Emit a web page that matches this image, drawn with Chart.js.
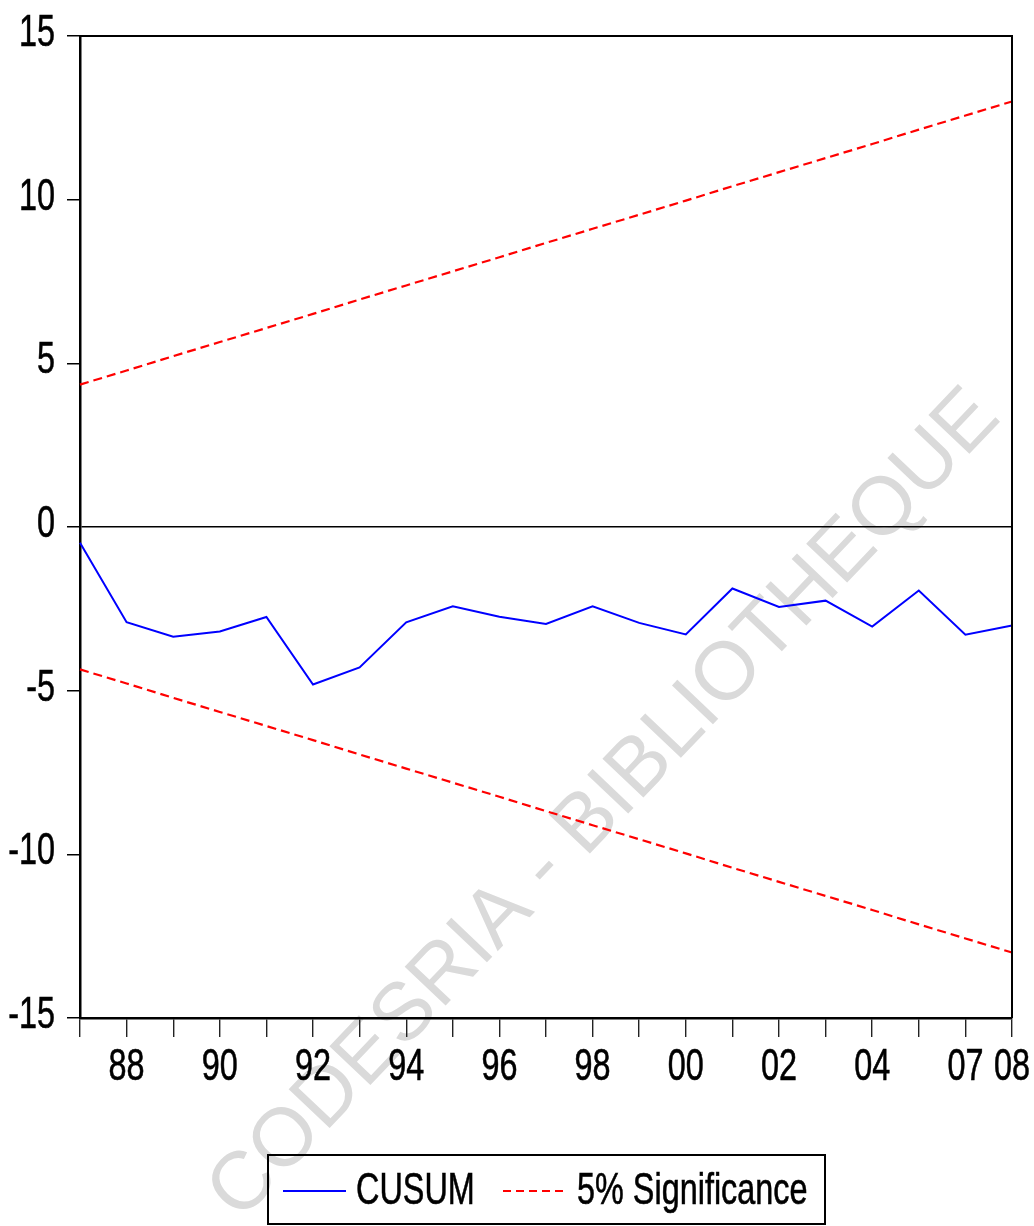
<!DOCTYPE html>
<html lang="en">
<head>
    <meta charset="UTF-8">
    <title>CUSUM</title>
    <script src="https://cdn.jsdelivr.net/npm/chart.js"></script>
    <style>
        body {
            margin: 0;
            background: #ffffff;
        }
        .wrap {
            position: relative;
            width: 1034px;
            height: 1226px;
        }
    </style>
</head>
<body>
    <div class="wrap">
        <canvas id="cusumChart"></canvas>
    </div>
    <script>
        // data
        const years = ['87', '88', '89', '90', '91', '92', '93', '94', '95', '96', '97',
                       '98', '99', '00', '01', '02', '03', '04', '05', '07', '08'];
        const shownYears = ['88', '90', '92', '94', '96', '98', '00', '02', '04', '07', '08'];
        const cusum = [-0.48, -2.91, -3.35, -3.19, -2.75, -4.81, -4.29, -2.91, -2.42, -2.74, -2.96,
                       -2.42, -2.93, -3.28, -1.88, -2.44, -2.25, -3.04, -1.94, -3.29, -3.01];
        const upper5 = [4.35, 4.78, 5.22, 5.65, 6.08, 6.51, 6.95, 7.38, 7.81, 8.24, 8.68,
                        9.11, 9.54, 9.97, 10.41, 10.84, 11.27, 11.70, 12.14, 12.57, 13.00];
        const lower5 = [-4.35, -4.78, -5.22, -5.65, -6.08, -6.51, -6.95, -7.38, -7.81, -8.24, -8.68,
                        -9.11, -9.54, -9.97, -10.41, -10.84, -11.27, -11.70, -12.14, -12.57, -13.00];
        const yTicks = [-15, -10, -5, 0, 5, 10, 15];

        // eviews draws arial squeezed sideways, no narrow font here so scale it
        const FONT = "45px 'Liberation Sans', Arial, sans-serif";
        const SQUEEZE = 0.72;

        function squeezedText(ctx, text, x, y, align) {
            ctx.save();
            ctx.translate(x, y);
            ctx.scale(SQUEEZE, 1);
            ctx.font = FONT;
            ctx.fillStyle = '#000';
            ctx.strokeStyle = '#000';
            ctx.lineWidth = 0.6;
            ctx.textAlign = align;
            ctx.textBaseline = 'alphabetic';
            ctx.fillText(text, 0, 0);
            ctx.strokeText(text, 0, 0);
            ctx.restore();
        }

        // watermark behind everything
        const watermark = {
            id: 'watermark',
            beforeDraw(chart) {
                const ctx = chart.ctx;
                ctx.save();
                ctx.translate(605, 805);
                ctx.rotate(-46.5 * Math.PI / 180);
                ctx.font = "82px 'Liberation Sans', Arial, sans-serif";
                ctx.fillStyle = '#dadada';
                ctx.textAlign = 'center';
                ctx.textBaseline = 'middle';
                ctx.fillText('CODESRIA - BIBLIOTHEQUE', 0, 0);
                ctx.restore();
            }
        };

        // top and right edges of the plot box
        const frame = {
            id: 'frame',
            afterDatasetsDraw(chart) {
                const {ctx, chartArea: a} = chart;
                ctx.save();
                ctx.strokeStyle = '#000';
                ctx.lineWidth = 2;
                ctx.beginPath();
                ctx.moveTo(a.left, a.top);
                ctx.lineTo(a.right, a.top);
                ctx.lineTo(a.right, a.bottom);
                ctx.stroke();
                ctx.restore();
            }
        };

        // tick labels placed from the scales
        const tickLabels = {
            id: 'tickLabels',
            afterDraw(chart) {
                const ctx = chart.ctx;
                const xs = chart.scales.x;
                const ys = chart.scales.y;
                const a = chart.chartArea;
                ys.ticks.forEach((t) => {
                    squeezedText(ctx, String(t.value), a.left - 25, ys.getPixelForValue(t.value) + 10, 'right');
                });
                years.forEach((lab, i) => {
                    if (shownYears.includes(lab)) {
                        squeezedText(ctx, lab, xs.getPixelForValue(i), a.bottom + 62, 'center');
                    }
                });
            }
        };

        // boxed legend under the axis
        const boxLegend = {
            id: 'boxLegend',
            afterDraw(chart) {
                const ctx = chart.ctx;
                const ds = chart.data.datasets;
                ctx.save();
                ctx.strokeStyle = '#000';
                ctx.lineWidth = 2;
                ctx.strokeRect(268, 1155, 557, 69);

                ctx.lineWidth = ds[0].borderWidth;
                ctx.strokeStyle = ds[0].borderColor;
                ctx.beginPath();
                ctx.moveTo(283, 1191);
                ctx.lineTo(346, 1191);
                ctx.stroke();

                ctx.lineWidth = ds[1].borderWidth;
                ctx.strokeStyle = ds[1].borderColor;
                ctx.setLineDash([8, 5]);
                ctx.beginPath();
                ctx.moveTo(503, 1191);
                ctx.lineTo(567, 1191);
                ctx.stroke();
                ctx.restore();

                squeezedText(ctx, ds[0].label, 356, 1204, 'left');
                squeezedText(ctx, ds[1].label, 577, 1204, 'left');
            }
        };

        const ctx = document.getElementById('cusumChart').getContext('2d');
        new Chart(ctx, {
            type: 'line',
            data: {
                labels: years,
                datasets: [
                    {
                        label: 'CUSUM',
                        data: cusum,
                        borderColor: '#0000ff',
                        borderWidth: 2,
                        pointRadius: 0,
                        tension: 0
                    },
                    {
                        label: '5% Significance',
                        data: upper5,
                        borderColor: '#ff0000',
                        borderWidth: 2.2,
                        borderDash: [9, 5],
                        pointRadius: 0,
                        tension: 0
                    },
                    {
                        label: '5% Significance (lower)',
                        data: lower5,
                        borderColor: '#ff0000',
                        borderWidth: 2.2,
                        borderDash: [9, 5],
                        pointRadius: 0,
                        tension: 0
                    }
                ]
            },
            options: {
                responsive: true,
                maintainAspectRatio: false,
                animation: false,
                layout: {
                    padding: { left: 0, right: 22, top: 36, bottom: 128 }
                },
                plugins: {
                    legend: { display: false },
                    tooltip: { enabled: false }
                },
                scales: {
                    x: {
                        offset: false,
                        afterFit: (s) => { s.height = 80; },
                        border: { display: true, color: '#000', width: 2.5 },
                        grid: {
                            drawOnChartArea: false,
                            tickLength: 19,
                            tickColor: '#222',
                            lineWidth: 1.4
                        },
                        ticks: {
                            display: false,
                            autoSkip: false,
                            maxRotation: 0
                        }
                    },
                    y: {
                        min: -15,
                        max: 15,
                        afterFit: (s) => { s.width = 80; },
                        afterBuildTicks: (s) => { s.ticks = yTicks.map(v => ({ value: v })); },
                        border: { display: true, color: '#000', width: 2.5 },
                        grid: {
                            drawOnChartArea: true,
                            color: (c) => (c.tick && c.tick.value === 0 ? '#000' : 'rgba(0,0,0,0)'),
                            tickColor: '#000',
                            lineWidth: 1.5,
                            tickLength: 13
                        },
                        ticks: {
                            display: false
                        }
                    }
                }
            },
            plugins: [watermark, frame, tickLabels, boxLegend]
        });
    </script>
</body>
</html>
